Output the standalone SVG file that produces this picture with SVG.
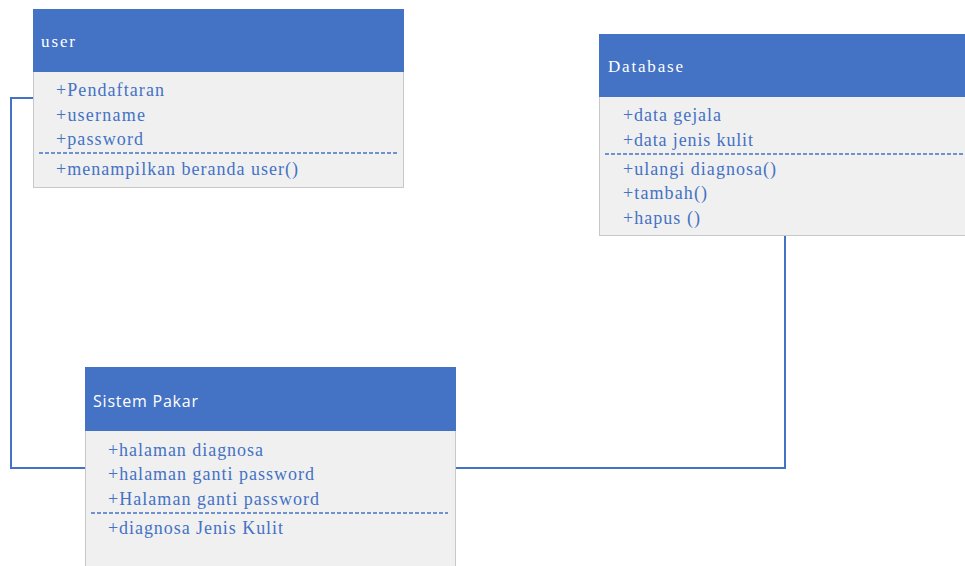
<svg xmlns="http://www.w3.org/2000/svg" width="965" height="566" viewBox="0 0 965 566">
<style>
.hd{fill:#4472C4;}
.bd{fill:#F0F0F0;stroke:#C8C8C8;stroke-width:1;}
.ht{font-family:'Liberation Serif','DejaVu Serif','Times New Roman',serif;font-size:17px;fill:#FFFFFF;}
.hs{font-family:'Open Sans','Noto Sans',sans-serif;font-size:16px;fill:#FFFFFF;}
.t{font-family:'Liberation Serif','DejaVu Serif','Times New Roman',serif;font-size:18px;fill:#4472C4;}
.dash{stroke:#4472C4;stroke-width:1.5;stroke-dasharray:4 2;fill:none;}
.conn{stroke:#4472C4;stroke-width:2;fill:none;}
</style>
<rect width="965" height="566" fill="#FFFFFF"/>
<g id="connectors">
<polyline class="conn" points="33,98 11,98 11,468 85,468"/>
<polyline class="conn" points="455,468 785,468 785,236"/>
</g>
<g id="user">
<rect class="bd" x="33.5" y="9.5" width="370" height="178"/>
<rect class="hd" x="33" y="9" width="371" height="63"/>
<text class="ht" x="41" y="47" textLength="34" lengthAdjust="spacing">user</text>
<text class="t" x="56" y="96" textLength="108" lengthAdjust="spacing">+Pendaftaran</text>
<text class="t" x="56" y="121" textLength="89" lengthAdjust="spacing">+username</text>
<text class="t" x="56" y="145" textLength="87" lengthAdjust="spacing">+password</text>
<line class="dash" x1="39" y1="153" x2="397" y2="153"/>
<text class="t" x="56" y="175" textLength="242" lengthAdjust="spacing">+menampilkan beranda user()</text>
</g>
<g id="database">
<rect class="bd" x="599.5" y="34.5" width="370" height="201"/>
<rect class="hd" x="599" y="34" width="370" height="63"/>
<text class="ht" x="608" y="72" textLength="75" lengthAdjust="spacing">Database</text>
<text class="t" x="623" y="121" textLength="98" lengthAdjust="spacing">+data gejala</text>
<text class="t" x="623" y="146" textLength="130" lengthAdjust="spacing">+data jenis kulit</text>
<line class="dash" x1="605" y1="154" x2="965" y2="154"/>
<text class="t" x="623" y="175" textLength="153" lengthAdjust="spacing">+ulangi diagnosa()</text>
<text class="t" x="623" y="199" textLength="84" lengthAdjust="spacing">+tambah()</text>
<text class="t" x="623" y="224" textLength="77" lengthAdjust="spacing">+hapus ()</text>
</g>
<g id="sistem-pakar">
<rect class="bd" x="85.5" y="367.5" width="370" height="210"/>
<rect class="hd" x="85" y="367" width="371" height="64"/>
<text class="hs" x="93" y="407" textLength="105" lengthAdjust="spacing">Sistem Pakar</text>
<text class="t" x="108" y="456" textLength="155" lengthAdjust="spacing">+halaman diagnosa</text>
<text class="t" x="108" y="480" textLength="206" lengthAdjust="spacing">+halaman ganti password</text>
<text class="t" x="108" y="505" textLength="211" lengthAdjust="spacing">+Halaman ganti password</text>
<line class="dash" x1="91" y1="513" x2="448" y2="513"/>
<text class="t" x="108" y="534" textLength="175" lengthAdjust="spacing">+diagnosa Jenis Kulit</text>
</g>
</svg>
